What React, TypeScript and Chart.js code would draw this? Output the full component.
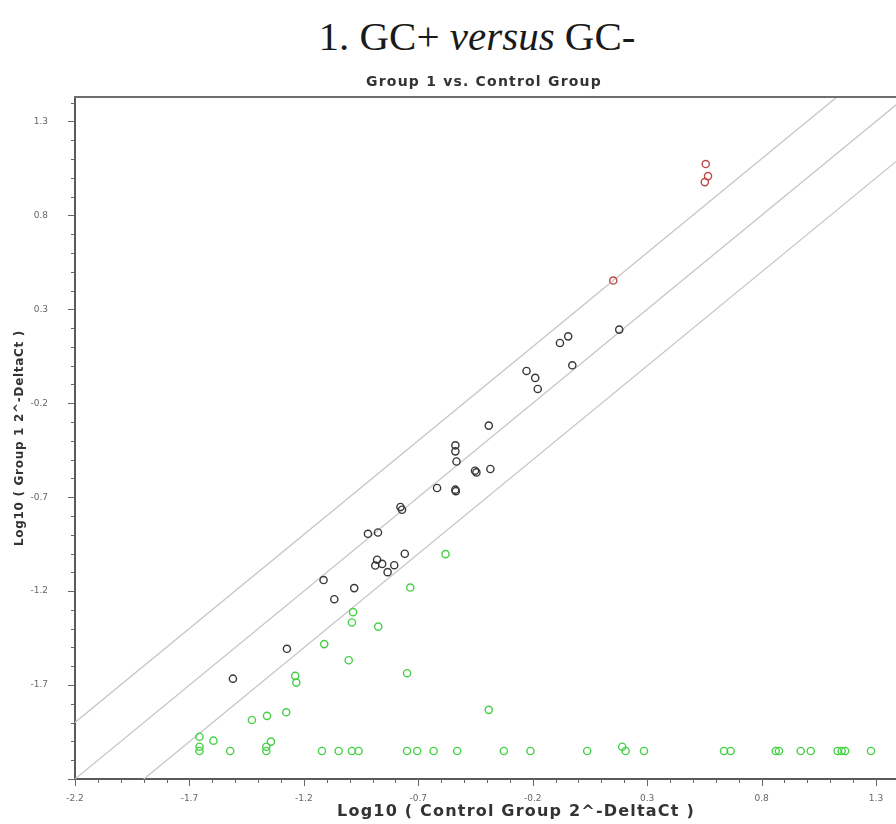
import React, { useEffect, useRef } from "react";
import { Chart, registerables } from "chart.js";

Chart.register(...registerables);

// ---- axes ----
const X_MIN = -2.2;
const X_MAX = 1.39;
const Y_MIN = -2.2;
const Y_MAX = 1.43;
const xMajorTicks = [-2.2, -1.7, -1.2, -0.7, -0.2, 0.3, 0.8, 1.3];
const yMajorTicks = [-1.7, -1.2, -0.7, -0.2, 0.3, 0.8, 1.3];
const MINOR_STEP = 0.1;
const foldOffsets = [0, Math.log10(2), -Math.log10(2)];

// ---- data: unchanged (black) ----
const unchangedX = [
  -0.392, -0.538, -0.538, -0.533, -0.452, -0.446, -0.385, -0.618, -0.538, -0.536,
  -0.778, -0.771, -0.92, -0.876, -0.759, -0.88, -0.888, -0.858, -0.834, -0.805,
  -1.114, -0.98, -1.067, -1.274, -1.51, 0.178, -0.081, -0.045, -0.027, -0.227,
  -0.189, -0.178,
];
const unchangedY = [
  -0.319, -0.424, -0.456, -0.51, -0.559, -0.568, -0.55, -0.651, -0.66, -0.668,
  -0.752, -0.767, -0.895, -0.888, -1.001, -1.033, -1.064, -1.055, -1.099, -1.062,
  -1.141, -1.184, -1.243, -1.507, -1.666, 0.192, 0.121, 0.156, 0.002, -0.028,
  -0.065, -0.124,
];

// ---- data: up-regulated (red) ----
const upX = [0.556, 0.566, 0.552, 0.152];
const upY = [1.073, 1.009, 0.977, 0.453];

// ---- data: down-regulated (green) ----
const downX = [
  -0.581, -0.735, -0.985, -0.99, -0.875, -1.111, -1.004, -0.749, -1.238, -1.233,
  -0.392, -1.277, -1.361, -1.427, -1.656, -1.595, -1.656, -1.656, -1.522, -1.344,
  -1.364, -1.364, -1.121, -1.048, -0.99, -0.961, -0.749, -0.705, -0.633, -0.53,
  -0.326, -0.21, 0.038, 0.191, 0.206, 0.286, 0.636, 0.665, 0.862, 0.876,
  0.971, 1.015, 1.132, 1.15, 1.165, 1.278,
];
const downY = [
  -1.003, -1.181, -1.312, -1.367, -1.389, -1.482, -1.568, -1.637, -1.651, -1.687,
  -1.832, -1.845, -1.864, -1.886, -1.975, -1.996, -2.028, -2.051, -2.051, -2.001,
  -2.028, -2.051, -2.051, -2.051, -2.051, -2.051, -2.051, -2.051, -2.051, -2.051,
  -2.051, -2.051, -2.051, -2.028, -2.051, -2.051, -2.051, -2.051, -2.051, -2.051,
  -2.051, -2.051, -2.051, -2.051, -2.051, -2.051,
];

const SUBTITLE = "Group 1 vs. Control Group";
const X_TITLE = "Log10 ( Control Group 2^-DeltaCt )";
const Y_TITLE = "Log10 ( Group 1 2^-DeltaCt )";

const zip = (xs: number[], ys: number[]) => xs.map((x, i) => ({ x, y: ys[i] }));

const decorPlugin = {
  id: "decor",
  afterDraw(chart: any) {
    const { ctx, chartArea: a, scales } = chart;
    const xs = scales.x;
    const ys = scales.y;
    ctx.save();
    // minor / major tick marks
    ctx.strokeStyle = "#666";
    ctx.lineWidth = 1;
    const nX = Math.round((X_MAX - X_MIN) / MINOR_STEP);
    for (let i = 0; i <= nX; i++) {
      const v = X_MIN + i * MINOR_STEP;
      const px = Math.round(xs.getPixelForValue(v)) + 0.5;
      const len = i % 5 === 0 ? 7 : 4;
      ctx.beginPath();
      ctx.moveTo(px, a.bottom);
      ctx.lineTo(px, a.bottom + len);
      ctx.stroke();
    }
    const nY = Math.round((Y_MAX - Y_MIN) / MINOR_STEP);
    for (let i = 0; i <= nY; i++) {
      const v = Y_MIN + i * MINOR_STEP;
      const py = Math.round(ys.getPixelForValue(v)) + 0.5;
      const len = i % 5 === 0 ? 7 : 4;
      ctx.beginPath();
      ctx.moveTo(a.left, py);
      ctx.lineTo(a.left - len, py);
      ctx.stroke();
    }
    // top frame line
    ctx.strokeStyle = "#6e6e6e";
    ctx.lineWidth = 2;
    ctx.beginPath();
    ctx.moveTo(a.left - 1, a.top);
    ctx.lineTo(a.right + 2, a.top);
    ctx.stroke();
    // subtitle
    ctx.fillStyle = "#333";
    ctx.textAlign = "center";
    ctx.textBaseline = "middle";
    (ctx as any).letterSpacing = "1.2px";
    ctx.font = 'bold 14px "DejaVu Sans"';
    ctx.fillText(SUBTITLE, 484, 82);
    // x axis title
    ctx.font = 'bold 16px "DejaVu Sans"';
    ctx.fillText(X_TITLE, 516, 812);
    // y axis title
    (ctx as any).letterSpacing = "0.7px";
    ctx.font = 'bold 12px "DejaVu Sans"';
    ctx.translate(20, (a.top + a.bottom) / 2);
    ctx.rotate(-Math.PI / 2);
    ctx.fillText(Y_TITLE, 0, 0);
    ctx.restore();
  },
};

export default function App() {
  const canvasRef = useRef<HTMLCanvasElement | null>(null);

  useEffect(() => {
    const canvas = canvasRef.current;
    if (!canvas) return;
    const lineDatasets = foldOffsets.map((off) => ({
      type: "line" as const,
      data: [
        { x: X_MIN - 1, y: X_MIN - 1 + off },
        { x: X_MAX + 1, y: X_MAX + 1 + off },
      ],
      borderColor: "#c6c6c6",
      borderWidth: 1.3,
      pointRadius: 0,
      showLine: true,
      fill: false,
      order: 2,
    }));
    const pointStyle = (color: string) => ({
      borderColor: color,
      backgroundColor: "rgba(0,0,0,0)",
      borderWidth: 1.4,
      pointRadius: 3.6,
      showLine: false,
      order: 1,
    });
    const chart = new Chart(canvas, {
      type: "scatter",
      data: {
        datasets: [
          { data: zip(downX, downY), ...pointStyle("#46d046") },
          { data: zip(unchangedX, unchangedY), ...pointStyle("#383838") },
          { data: zip(upX, upY), ...pointStyle("#c04848") },
          ...lineDatasets,
        ] as any,
      },
      options: {
        responsive: false,
        animation: false,
        events: [],
        layout: { padding: { top: 97, left: 0, right: 0, bottom: 0 } },
        plugins: {
          legend: { display: false },
          tooltip: { enabled: false },
          title: { display: false },
        },
        scales: {
          x: {
            type: "linear",
            min: X_MIN,
            max: X_MAX,
            afterBuildTicks: (scale: any) => {
              scale.ticks = xMajorTicks.map((v) => ({ value: v }));
            },
            afterFit: (scale: any) => {
              scale.height = 45;
            },
            ticks: {
              autoSkip: false,
              maxRotation: 0,
              padding: 7,
              color: "#666",
              font: { family: "DejaVu Sans", size: 9 },
              callback: (v: any) => Number(v).toFixed(1),
            },
            grid: { display: false, drawTicks: true, tickLength: 7 },
            border: { display: true, color: "#5a5a5a", width: 2 },
          },
          y: {
            type: "linear",
            min: Y_MIN,
            max: Y_MAX,
            afterBuildTicks: (scale: any) => {
              scale.ticks = yMajorTicks.map((v) => ({ value: v }));
            },
            afterFit: (scale: any) => {
              scale.width = 75;
            },
            ticks: {
              autoSkip: false,
              padding: 20,
              color: "#666",
              font: { family: "DejaVu Sans", size: 9 },
              callback: (v: any) => Number(v).toFixed(1),
            },
            grid: { display: false, drawTicks: true, tickLength: 7 },
            border: { display: true, color: "#5a5a5a", width: 2 },
          },
        },
      },
      plugins: [decorPlugin],
    } as any);
    return () => chart.destroy();
  }, []);

  return (
    <div
      style={{
        position: "fixed",
        left: 0,
        top: 0,
        width: 896,
        height: 824,
        background: "#fff",
        overflow: "hidden",
      }}
    >
      <div
        style={{
          position: "absolute",
          left: 0,
          top: 14,
          width: 954,
          textAlign: "center",
          fontFamily: '"Liberation Serif", serif',
          fontSize: 41,
          lineHeight: "44px",
          color: "#1a1a1a",
        }}
      >
        1. GC+ <i>versus</i> GC-
      </div>
      <canvas
        ref={canvasRef}
        width={902}
        height={824}
        style={{ position: "absolute", left: 0, top: 0, width: 902, height: 824 }}
      />
    </div>
  );
}
